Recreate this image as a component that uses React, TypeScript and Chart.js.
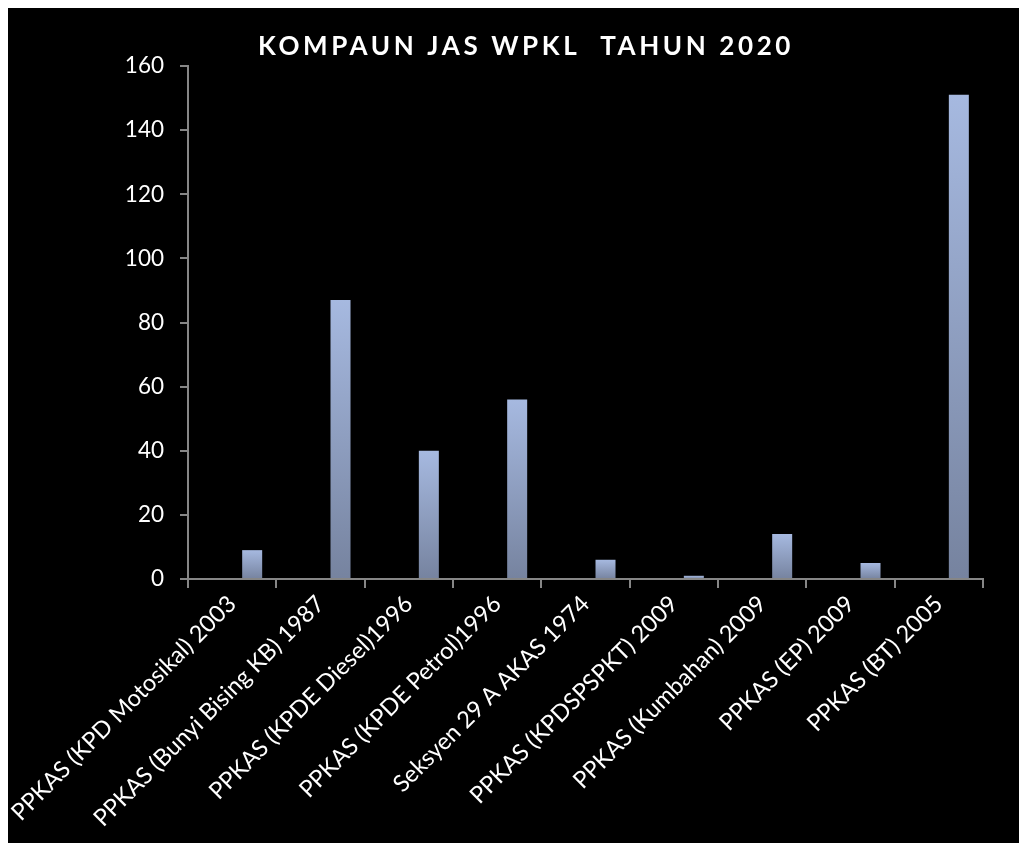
import React, { useEffect, useRef } from "react";
import { Chart, registerables } from "chart.js";

Chart.register(...registerables);

const TITLE = "KOMPAUN JAS WPKL  TAHUN 2020";

const categories = [
  "PPKAS (KPD Motosikal) 2003",
  "PPKAS (Bunyi Bising KB) 1987",
  "PPKAS (KPDE Diesel)1996",
  "PPKAS (KPDE Petrol)1996",
  "Seksyen 29 A AKAS 1974",
  "PPKAS (KPDSPSPKT) 2009",
  "PPKAS (Kumbahan) 2009",
  "PPKAS (EP) 2009",
  "PPKAS (BT) 2005",
];

const values = [9, 87, 40, 56, 6, 1, 14, 5, 151];
const emptySeries: (number | null)[] = categories.map(() => null);

const yMin = 0;
const yMax = 160;
const yStep = 20;

const FONT = "Lato, 'Open Sans', sans-serif";

const titlePlugin = {
  id: "customTitle",
  afterDraw(chart: any) {
    const ctx = chart.ctx as CanvasRenderingContext2D;
    ctx.save();
    ctx.font = `bold 26px ${FONT}`;
    (ctx as any).letterSpacing = "3.6px";
    ctx.fillStyle = "#ffffff";
    ctx.textAlign = "center";
    ctx.textBaseline = "middle";
    ctx.fillText(TITLE, 518, 39);
    ctx.restore();
  },
};

export default function App() {
  const ref = useRef<HTMLCanvasElement | null>(null);

  useEffect(() => {
    if (!ref.current) return;
    const chart = new Chart(ref.current, {
      type: "bar",
      data: {
        labels: categories,
        datasets: [
          {
            label: "",
            data: emptySeries,
            backgroundColor: "transparent",
            categoryPercentage: 0.906,
            barPercentage: 0.5,
          },
          {
            label: "Kompaun",
            data: values,
            categoryPercentage: 0.906,
            barPercentage: 0.5,
            backgroundColor: (c: any) => {
              const ch = c.chart;
              const ys = ch.scales && ch.scales.y;
              if (!ys || c.raw == null) return "#93a4c6";
              const top = ys.getPixelForValue(c.raw as number);
              const bottom = ys.getPixelForValue(0);
              if (!isFinite(top) || !isFinite(bottom) || top === bottom) return "#93a4c6";
              const g = ch.ctx.createLinearGradient(0, top, 0, bottom);
              g.addColorStop(0, "#a6b9e0");
              g.addColorStop(1, "#76839f");
              return g;
            },
          },
        ],
      },
      options: {
        animation: false,
        responsive: true,
        maintainAspectRatio: false,
        events: [],
        layout: { padding: { left: 0, top: 58, right: 36, bottom: 0 } },
        plugins: {
          legend: { display: false },
          tooltip: { enabled: false },
          title: { display: false },
        },
        scales: {
          x: {
            offset: true,
            grid: {
              offset: true,
              drawOnChartArea: false,
              drawTicks: true,
              tickLength: 9,
              color: "#868686",
              lineWidth: 2,
            },
            border: { display: true, color: "#868686", width: 2 },
            ticks: {
              color: "#ffffff",
              font: { family: FONT, size: 23.5 },
              maxRotation: 45,
              minRotation: 45,
              autoSkip: false,
              padding: 2,
            },
            afterFit(scale: any) {
              scale.height = 264;
              scale.paddingLeft = 0;
              scale.paddingRight = 0;
            },
          },
          y: {
            min: yMin,
            max: yMax,
            ticks: {
              stepSize: yStep,
              color: "#ffffff",
              font: { family: FONT, size: 22.5 },
              padding: 16,
            },
            grid: {
              drawOnChartArea: false,
              drawTicks: true,
              tickLength: 8,
              color: "#868686",
              lineWidth: 2,
            },
            border: { display: true, color: "#868686", width: 2 },
            afterFit(scale: any) {
              scale.width = 180;
            },
          },
        },
      },
      plugins: [titlePlugin],
    });
    return () => chart.destroy();
  }, []);

  return (
    <div
      style={{
        position: "fixed",
        left: 8,
        top: 8,
        right: 0,
        bottom: 0,
        background: "#000000",
      }}
    >
      <canvas ref={ref} />
    </div>
  );
}
